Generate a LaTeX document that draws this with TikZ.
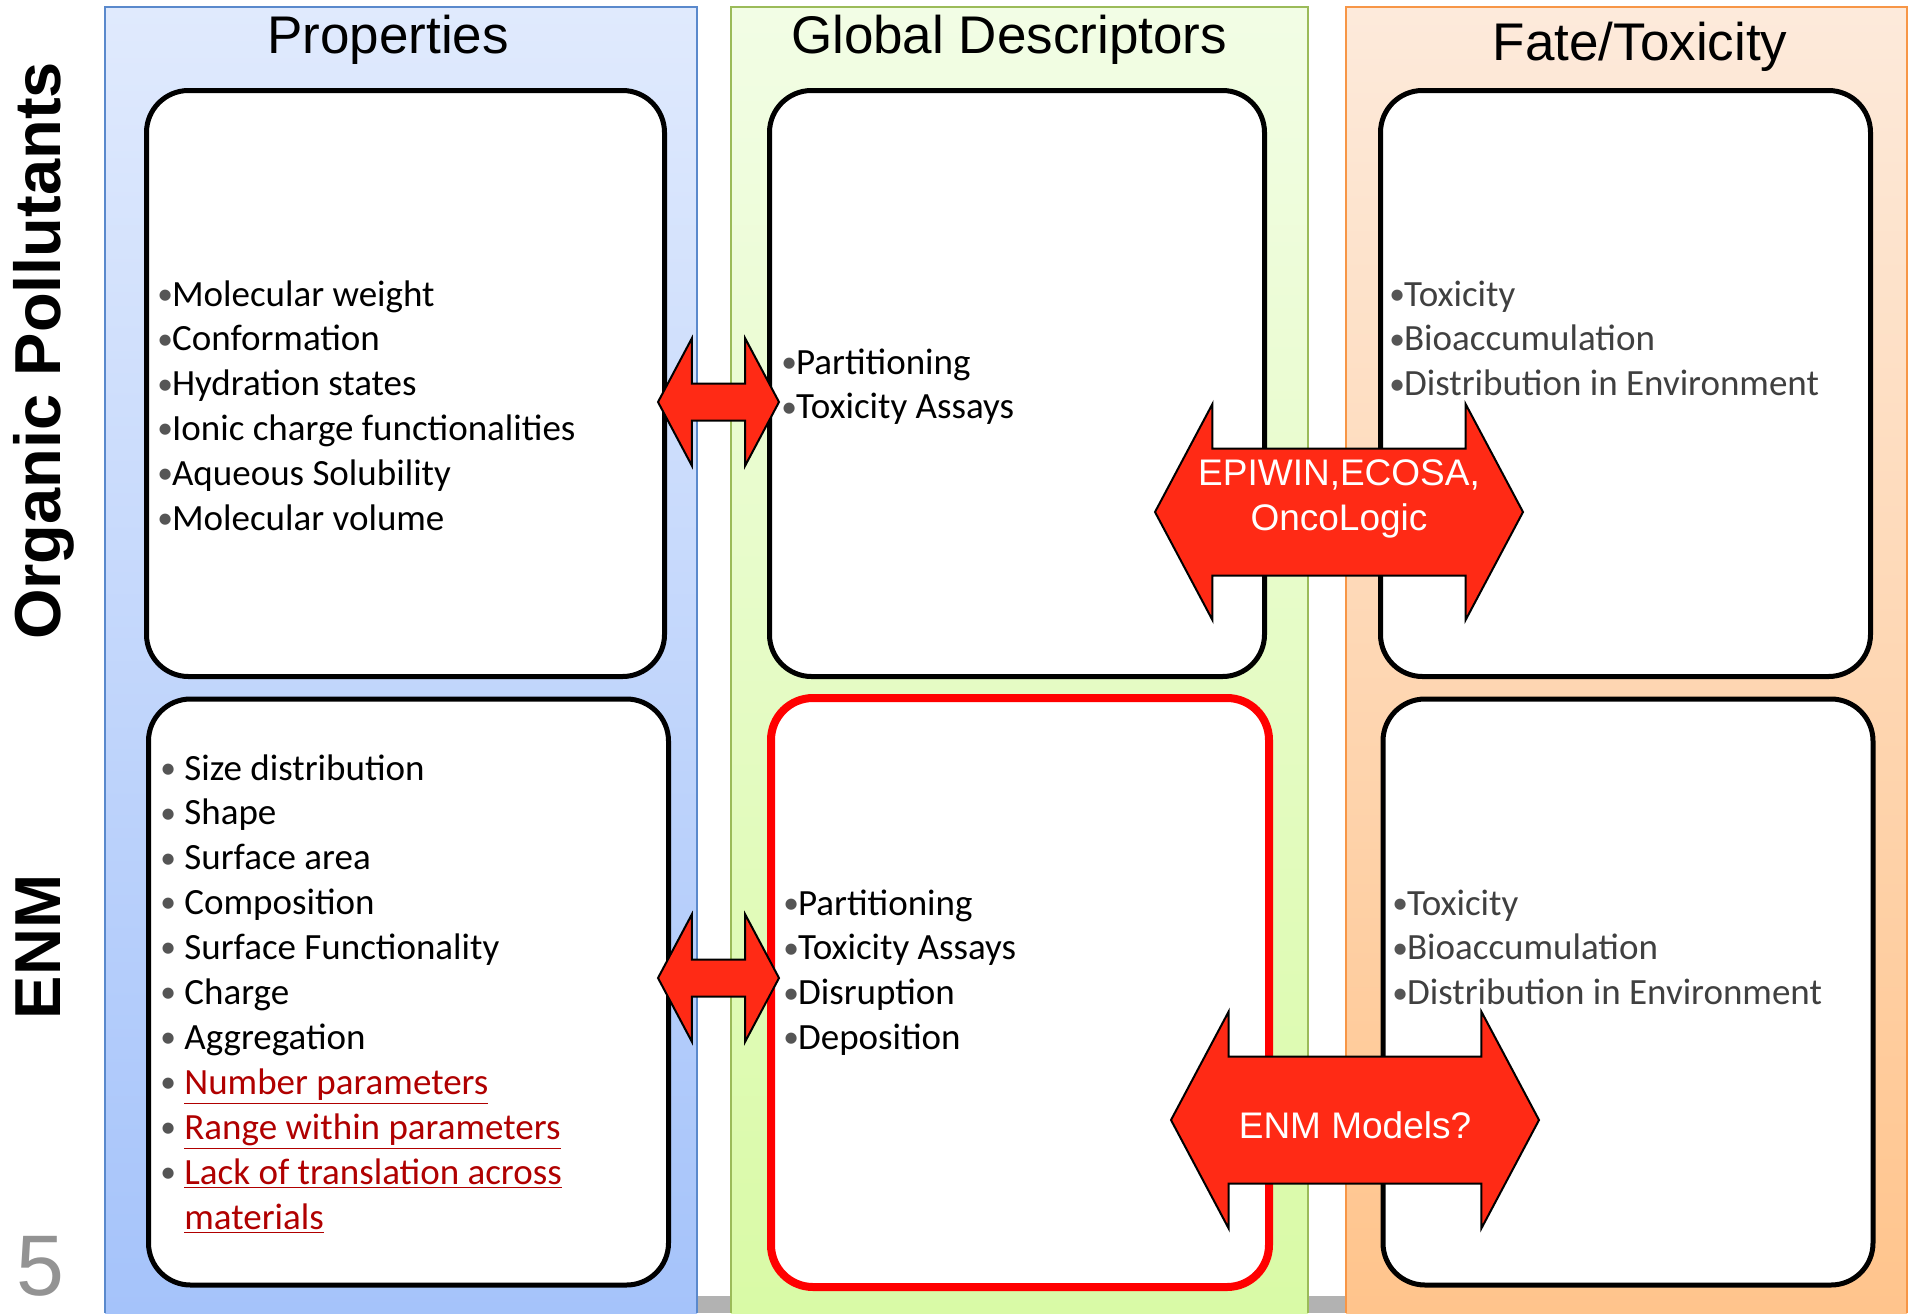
\documentclass[tikz,border=0pt]{standalone}
\usepackage{fontspec}
\setmainfont{Carlito}
\newfontfamily\arialfont{Liberation Sans}
\usetikzlibrary{shapes.arrows}

\definecolor{blueTop}{HTML}{E0EAFD}
\definecolor{blueBot}{HTML}{A5C3FA}
\definecolor{blueEdge}{HTML}{5A89CC}
\definecolor{greenTop}{HTML}{F2FDE5}
\definecolor{greenBot}{HTML}{D9FAA6}
\definecolor{greenEdge}{HTML}{9BBB59}
\definecolor{orangeTop}{HTML}{FDEADB}
\definecolor{orangeBot}{HTML}{FFC48C}
\definecolor{orangeEdge}{HTML}{F79646}
\definecolor{barGray}{HTML}{B2B2B2}
\definecolor{arrowRed}{HTML}{FF2A15}
\definecolor{linkRed}{HTML}{B00000}
\definecolor{textGray}{HTML}{404040}
\definecolor{bulletGray}{HTML}{555555}

\newcommand\bul{{\color{bulletGray}\raisebox{0.9pt}{\scalebox{0.85}{•}}}\kern-0.5pt}
\newcommand\redlink[1]{\textcolor{linkRed}{\underline{#1}}}

\begin{document}
\begin{tikzpicture}[x=0.5pt,y=-0.5pt,
	panel/.style={draw, line width=2.5pt, rounded corners=21pt, fill=white,
		minimum width=#1, minimum height=293pt, inner sep=0pt},
	item/.style={anchor=base west, inner sep=0pt, font=\fontsize{18.5}{22}\selectfont},
	head/.style={anchor=base, inner sep=0pt, font=\arialfont\fontsize{26.5}{30}\selectfont},
	rowlabel/.style={anchor=base, inner sep=0pt, rotate=90,
		font=\arialfont\bfseries\fontsize{32.5}{36}\selectfont},
	blockarrow/.style={double arrow, draw=black, line width=1pt, fill=arrowRed,
		double arrow tip angle=124, double arrow head extend=#1, inner xsep=0pt},
	arrowtext/.style={inner sep=0pt, align=center, text=white,
		font=\arialfont\fontsize{18.5}{22.25}\selectfont}]
	\useasboundingbox (0,0) rectangle (1912,1313);
	%----------------------------------------------------
	% background columns
	%----------------------------------------------------
	\fill[barGray] (105,1296) rectangle (1907,1313);
	\shade[top color=blueTop, bottom color=blueBot] (105,7) rectangle (697,1313);
	\draw[blueEdge, line width=1pt] (105,1313) -- (105,7) -- (697,7) -- (697,1313);
	\shade[top color=greenTop, bottom color=greenBot] (731,7) rectangle (1308,1313);
	\draw[greenEdge, line width=1pt] (731,1313) -- (731,7) -- (1308,7) -- (1308,1313);
	\shade[top color=orangeTop, bottom color=orangeBot] (1346,7) rectangle (1907,1313);
	\draw[orangeEdge, line width=1pt] (1346,1313) -- (1346,7) -- (1907,7) -- (1907,1313);
	
	\node[head] (hProps) at (388,53) {Properties};
	\node[head] (hDesc) at (1009,53) {Global Descriptors};
	\node[head] (hFate) at (1640,60) {Fate/Toxicity};
	
	\node[rowlabel] (rowOP) at (61,351) {Organic Pollutants};
	\node[rowlabel] (rowENM) at (61,947) {ENM};
	\node[anchor=base, inner sep=0pt, text=gray!85,
		font=\arialfont\fontsize{43}{46}\selectfont] (slideNo) at (40,1295) {5};
	
	%----------------------------------------------------
	% the six panels
	%----------------------------------------------------
	\node[panel=259pt] (opProps) at (405.5,383.5) {};
	\node[panel=247.5pt] (opDesc) at (1017,383.5) {};
	\node[panel=245pt] (opFate) at (1625.5,383.5) {};
	\node[panel=260pt] (enmProps) at (408.5,992) {};
	\node[panel=249pt, draw=red, line width=4pt, minimum height=294.5pt] (enmDesc) at (1020,992.5) {};
	\node[panel=245pt] (enmFate) at (1628,992) {};
	
	\foreach \txt [count=\i from 0] in {Molecular weight, Conformation, Hydration states,
		Ionic charge functionalities, Aqueous Solubility, Molecular volume}
	\node[item] (opProp\i) at (157,306+44.9*\i) {\bul\txt};
	
	\foreach \txt [count=\i from 0] in {Partitioning, Toxicity Assays}
	\node[item] (opDesc\i) at (781,374+44.9*\i) {\bul\txt};
	
	\foreach \txt [count=\i from 0] in {Toxicity, Bioaccumulation, Distribution in Environment}
	\node[item, text=textGray] (opFate\i) at (1389,306+44.9*\i) {\bul\txt};
	
	\foreach \txt [count=\i from 0] in {Size distribution, Shape, Surface area, Composition,
		Surface Functionality, Charge, Aggregation, \redlink{Number parameters},
		\redlink{Range within parameters}, \redlink{Lack of translation across}}
	\node[item] (enmProp\i) at (160,780+44.9*\i) {\makebox[12pt][l]{\bul}\txt};
	\node[item] (enmProp10) at (184,1229) {\redlink{materials}};
	
	\foreach \txt [count=\i from 0] in {Partitioning, Toxicity Assays, Disruption, Deposition}
	\node[item] (enmDesc\i) at (783,915+44.9*\i) {\bul\txt};
	
	\foreach \txt [count=\i from 0] in {Toxicity, Bioaccumulation, Distribution in Environment}
	\node[item, text=textGray] (enmFate\i) at (1392,915+44.9*\i) {\bul\txt};
	
	%----------------------------------------------------
	% block arrows
	%----------------------------------------------------
	\node[blockarrow=22.5pt, inner ysep=8.75pt, minimum height=60.5pt] (opLink) at (718.5,402) {};
	\node[blockarrow=22.5pt, inner ysep=8.75pt, minimum height=60.5pt] (enmLink) at (718.5,978) {};
	\node[blockarrow=22.25pt, inner ysep=31.25pt, minimum height=184pt] (opModels) at (1339,512) {};
	\node[blockarrow=22.5pt, inner ysep=31.25pt, minimum height=184pt] (enmModels) at (1355,1120) {};
	
	\node[arrowtext] (opModelsTxt) at (1339,499) {EPIWIN,ECOSA,\\OncoLogic};
	\node[arrowtext, anchor=base] (enmModelsTxt) at (1355,1138) {ENM Models?};
\end{tikzpicture}
\end{document}
